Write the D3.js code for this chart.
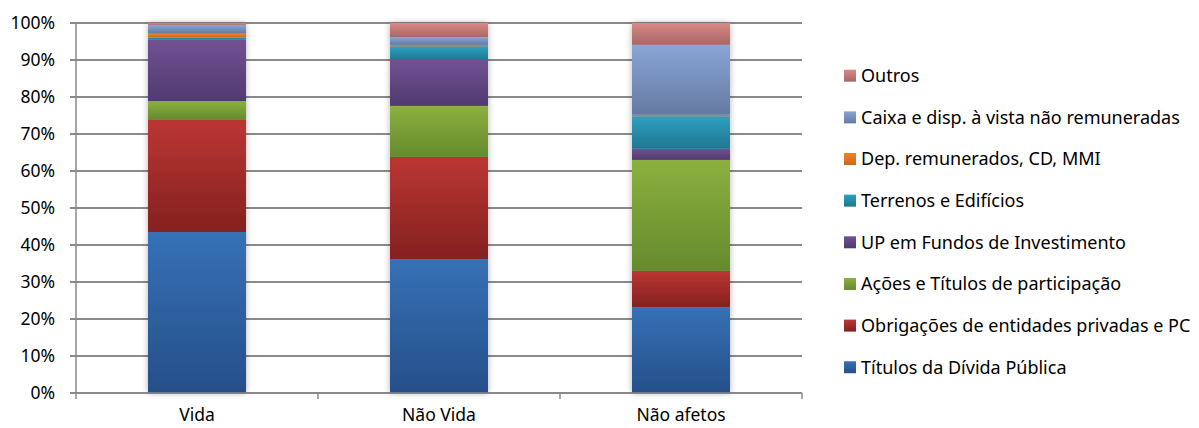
<!DOCTYPE html>
<html lang="pt">
<head>
<meta charset="UTF-8">
<title>Carteira de investimentos</title>
<script src="https://d3js.org/d3.v7.min.js"></script>
<style>
  body { margin: 0; background: #fff; }
  text { font-family: "Noto Sans", "Open Sans", sans-serif; fill: #000; }
</style>
</head>
<body>
<svg width="1199" height="428"></svg>
<script>
// categories and series (bottom to top), values in %
const categories = ["Vida", "Não Vida", "Não afetos"];
const seriesNames = [
  "Títulos da Dívida Pública",
  "Obrigações de entidades privadas e PC",
  "Ações e Títulos de participação",
  "UP em Fundos de Investimento",
  "Terrenos e Edifícios",
  "Dep. remunerados, CD, MMI",
  "Caixa e disp. à vista não remuneradas",
  "Outros"
];
const titulos   = [43.5, 36.2, 23.2];
const obrigacoes = [30.3, 27.6, 9.8];
const acoes     = [5.1, 13.8, 30.0];
const fundos    = [16.7, 12.4, 3.0];
const terrenos  = [0.5, 3.7, 8.8];
const depositos = [1.0, 0.4, 0.4];
const caixa     = [2.4, 2.1, 18.9];
const outros    = [0.5, 3.8, 5.9];
const yTicks = [0, 0.1, 0.2, 0.3, 0.4, 0.5, 0.6, 0.7, 0.8, 0.9, 1];

const seriesValues = [titulos, obrigacoes, acoes, fundos, terrenos, depositos, caixa, outros];
// gradient top / bottom colours per series
const colors = [
  ["#3671b6", "#264f89"],
  ["#bb3633", "#842121"],
  ["#8cb03f", "#658a2d"],
  ["#725193", "#4f3a70"],
  ["#2fa0c0", "#1f7690"],
  ["#f08424", "#c8661a"],
  ["#8aa6d6", "#6479a0"],
  ["#da8886", "#a66766"]
];

const table = categories.map((c, i) => {
  const row = { cat: c };
  seriesNames.forEach((s, j) => row[s] = seriesValues[j][i] / 100);
  return row;
});
const stacked = d3.stack().keys(seriesNames)(table);

const svg = d3.select("svg");
const defs = svg.append("defs");

seriesNames.forEach((s, j) => {
  const g = defs.append("linearGradient").attr("id", "grad" + j)
    .attr("x1", 0).attr("y1", 0).attr("x2", 0).attr("y2", 1);
  g.append("stop").attr("offset", "0%").attr("stop-color", colors[j][0]);
  g.append("stop").attr("offset", "100%").attr("stop-color", colors[j][1]);
});

const shadow = defs.append("filter").attr("id", "shadow")
  .attr("x", "-20%").attr("y", "-5%").attr("width", "140%").attr("height", "110%");
shadow.append("feDropShadow").attr("dx", 0).attr("dy", 0)
  .attr("stdDeviation", 3).attr("flood-color", "#000").attr("flood-opacity", 0.3);

const plotLeft = 76, plotRight = 802, plotTop = 23, plotBottom = 393;

const x = d3.scaleBand().domain(categories).range([plotLeft, plotRight])
  .paddingInner(0.595).paddingOuter(0.2975);
const y = d3.scaleLinear().domain([0, 1]).range([plotBottom, plotTop]);

// gridlines
svg.append("g")
  .selectAll("line")
  .data(yTicks)
  .join("line")
  .attr("x1", plotLeft - 6).attr("x2", plotRight)
  .attr("y1", d => y(d)).attr("y2", d => y(d))
  .attr("stroke", "#8a8a8a").attr("stroke-width", 2);

// y axis line
svg.append("line")
  .attr("x1", plotLeft).attr("x2", plotLeft).attr("y1", plotTop).attr("y2", plotBottom)
  .attr("stroke", "#8a8a8a").attr("stroke-width", 1.5);

// y labels
svg.append("g")
  .selectAll("text")
  .data(yTicks)
  .join("text")
  .attr("x", 55).attr("y", d => y(d))
  .attr("dy", "0.35em")
  .attr("text-anchor", "end")
  .attr("font-size", 17.5)
  .text(d3.format(".0%"));

// bars
const barGroup = svg.append("g").attr("filter", "url(#shadow)");
stacked.forEach((layer, j) => {
  barGroup.selectAll(null)
    .data(layer)
    .join("rect")
    .attr("x", d => x(d.data.cat))
    .attr("width", x.bandwidth())
    .attr("y", d => y(d[1]))
    .attr("height", d => y(d[0]) - y(d[1]))
    .attr("fill", "url(#grad" + j + ")");
});

// x axis
svg.append("line")
  .attr("x1", plotLeft).attr("x2", plotRight).attr("y1", plotBottom).attr("y2", plotBottom)
  .attr("stroke", "#8a8a8a").attr("stroke-width", 1.5);
const bounds = categories.map(c => x(c) - x.step() * x.paddingInner() / 2).concat([plotRight]);
svg.append("g")
  .selectAll("line")
  .data(bounds)
  .join("line")
  .attr("x1", d => d).attr("x2", d => d)
  .attr("y1", plotBottom).attr("y2", plotBottom + 6)
  .attr("stroke", "#8a8a8a").attr("stroke-width", 1.5);
svg.append("g")
  .selectAll("text")
  .data(categories)
  .join("text")
  .attr("x", d => x(d) + x.bandwidth() / 2)
  .attr("y", 421)
  .attr("text-anchor", "middle")
  .attr("font-size", 17.5)
  .text(d => d);

// legend (top to bottom = reversed series)
const legendItems = seriesNames.map((s, j) => ({ name: s, j })).reverse();
const legend = svg.append("g")
  .selectAll("g")
  .data(legendItems)
  .join("g")
  .attr("transform", (d, i) => `translate(844, ${75.7 + i * 41.65})`);
legend.append("rect")
  .attr("x", 0).attr("y", -6).attr("width", 12).attr("height", 12)
  .attr("fill", d => `url(#grad${d.j})`);
legend.append("text")
  .attr("x", 17).attr("dy", "0.35em")
  .attr("font-size", 18)
  .text(d => d.name);
</script>
</body>
</html>
